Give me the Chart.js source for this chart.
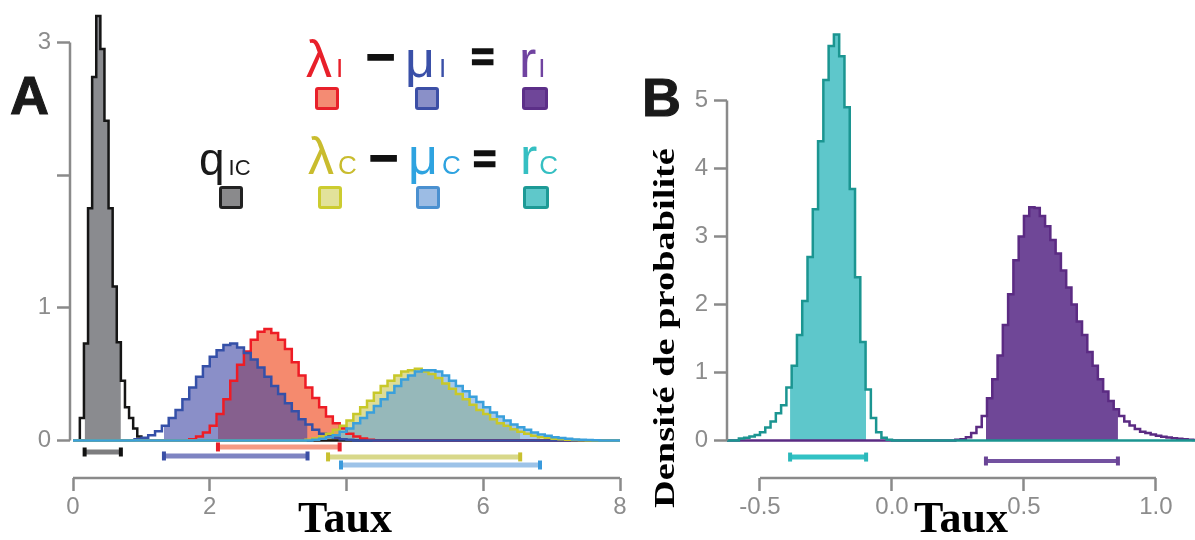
<!DOCTYPE html>
<html lang="fr">
<head>
<meta charset="utf-8">
<title>Taux</title>
<script src="https://cdn.jsdelivr.net/npm/chart.js@4.4.1/dist/chart.umd.min.js"></script>
<style>
  html, body { margin: 0; padding: 0; background: #fff; }
  body { width: 1195px; height: 540px; position: relative; overflow: hidden; font-family: "Liberation Sans", Arial, sans-serif; }
  .panel { position: absolute; top: 0; height: 540px; }
  #panelA { left: 0; width: 640px; }
  #panelB { left: 640px; width: 555px; }
  .txt { position: absolute; white-space: nowrap; line-height: 1; }
  .big { font-size: 52px; }
  .sub { font-size: 26px; margin-left: 4px; }
  .op { font-weight: bold; color: #111; -webkit-text-stroke: 1.5px #111; }
  .sq { position: absolute; box-sizing: border-box; border: 3px solid; border-radius: 3px; width: 24px; height: 23px; }
  .letter { font-weight: bold; font-size: 54px; color: #1a1a1a; -webkit-text-stroke: 1px #1a1a1a; }
  #yTitleB { font-family: "Liberation Serif", "Times New Roman", serif; font-weight: bold; font-size: 30px;
             left: 664px; top: 328px; transform: translate(-50%, -50%) rotate(-90deg) scaleX(1.28); }
</style>
</head>
<body>
<div class="panel" id="panelA"><canvas id="chartA"></canvas></div>
<div class="panel" id="panelB"><canvas id="chartB"></canvas></div>

<!-- panel letters -->
<div class="txt letter" style="left:10px;top:68px">A</div>
<div class="txt letter" style="left:642px;top:70px">B</div>

<!-- legend, row 1 -->
<div class="txt big" style="left:306px;top:33px;color:#E8202A">λ<span class="sub">I</span></div>
<div class="txt op" style="left:366px;top:32px;font-size:50px">−</div>
<div class="txt big" style="left:405px;top:33px;color:#3A50A8">μ<span class="sub">I</span></div>
<div class="txt op" style="left:471px;top:37px;font-size:40px">=</div>
<div class="txt big" style="left:519px;top:33px;color:#7043A0">r<span class="sub" style="margin-left:2px">I</span></div>
<div class="sq" style="left:315px;top:87px;border-color:#E8202A;background:#F48B73"></div>
<div class="sq" style="left:415px;top:87px;border-color:#3C4FA6;background:#8A90C8"></div>
<div class="sq" style="left:522px;top:87px;width:26px;border-color:#5C2F88;background:#6F4699"></div>

<!-- legend, row 2 -->
<div class="txt" style="left:199px;top:136px;font-size:46px;color:#1a1a1a">q<span class="sub" style="font-size:22px">IC</span></div>
<div class="txt big" style="left:308px;top:130px;color:#C9BC2E">λ<span class="sub">C</span></div>
<div class="txt op" style="left:369px;top:133px;font-size:50px">−</div>
<div class="txt big" style="left:408px;top:130px;color:#2EA3E0">μ<span class="sub">C</span></div>
<div class="txt op" style="left:473px;top:139px;font-size:40px">=</div>
<div class="txt big" style="left:520px;top:130px;color:#35BFC2">r<span class="sub" style="margin-left:2px">C</span></div>
<div class="sq" style="left:219px;top:186px;border-color:#222;background:#8A8A8C"></div>
<div class="sq" style="left:318px;top:186px;border-color:#CCCC30;background:#E2E29A"></div>
<div class="sq" style="left:416px;top:186px;border-color:#4A90D0;background:#9CBCE4"></div>
<div class="sq" style="left:523px;top:186px;width:26px;border-color:#1D9A96;background:#5FC8CA"></div>

<div class="txt" id="yTitleB">Densité de probabilité</div>

<script>
// ---- axes ----
const xTicksA = [0, 2, 4, 6, 8];
const xLabelsA = ['0', '2', '', '6', '8'];
const yTicksA = [0, 1, 2, 3];
const yLabelsA = ['0', '1', '', '3'];
const xTicksB = [-0.5, 0, 0.5, 1.0];
const xLabelsB = ['-0.5', '0.0', '0.5', '1.0'];
const yTicksB = [0, 1, 2, 3, 4, 5];
const yLabelsB = ['0', '1', '2', '3', '4', '5'];

// ---- panel A histograms (bin start, bin width, densities) and 95% intervals ----
const qicStart = 0.10, qicWidth = 0.06;
const qicDensity = [0.17, 0.73, 1.75, 2.74, 3.2, 2.95, 2.41, 1.75, 1.16, 0.74, 0.45, 0.25, 0.17, 0.09, 0.03];
const qicCI = [0.17, 0.70];

const lambdaIStart = 1.7, lambdaIWidth = 0.1;
const lambdaIDensity = [0.01, 0.03, 0.06, 0.11, 0.2, 0.31, 0.45, 0.57, 0.67, 0.76, 0.82, 0.84, 0.81, 0.76,
  0.69, 0.59, 0.49, 0.40, 0.32, 0.25, 0.18, 0.13, 0.09, 0.05, 0.03, 0.015, 0.005];
const lambdaICI = [2.12, 3.90];

const muIStart = 0.9, muIWidth = 0.1;
const muIDensity = [0.01, 0.02, 0.04, 0.07, 0.11, 0.17, 0.23, 0.31, 0.40, 0.48, 0.56, 0.63, 0.68, 0.72, 0.73,
  0.70, 0.66, 0.61, 0.55, 0.48, 0.41, 0.35, 0.28, 0.22, 0.16, 0.12, 0.08, 0.05, 0.03, 0.02, 0.01, 0.005];
const muICI = [1.33, 3.43];

const lambdaCStart = 3.4, lambdaCWidth = 0.1;
const lambdaCDensity = [0.005, 0.015, 0.03, 0.05, 0.08, 0.11, 0.15, 0.20, 0.25, 0.30, 0.36, 0.41, 0.45, 0.49,
  0.52, 0.53, 0.54, 0.52, 0.50, 0.47, 0.43, 0.39, 0.35, 0.31, 0.27, 0.23, 0.20, 0.16, 0.13, 0.11, 0.085,
  0.065, 0.05, 0.035, 0.025, 0.02, 0.013, 0.009, 0.006, 0.004, 0.002];
const lambdaCCI = [3.73, 6.54];

const muCStart = 3.5, muCWidth = 0.1;
const muCDensity = [0.005, 0.012, 0.025, 0.04, 0.065, 0.09, 0.13, 0.17, 0.21, 0.26, 0.31, 0.36, 0.41, 0.46,
  0.49, 0.52, 0.53, 0.53, 0.52, 0.49, 0.45, 0.41, 0.37, 0.33, 0.29, 0.25, 0.21, 0.18, 0.15, 0.12, 0.10,
  0.08, 0.06, 0.045, 0.035, 0.025, 0.018, 0.012, 0.008, 0.005, 0.003, 0.002];
const muCCI = [3.92, 6.83];

// ---- panel B histograms ----
const rCStart = -0.58, rCWidth = 0.02;
const rCDensity = [0.03, 0.04, 0.06, 0.08, 0.12, 0.19, 0.28, 0.40, 0.52, 0.78, 1.10, 1.55, 2.05, 2.7, 3.4,
  4.4, 5.3, 5.8, 5.97, 5.65, 4.9, 3.7, 2.4, 1.45, 0.75, 0.33, 0.12, 0.04, 0.01];
const rCCI = [-0.386, -0.098];

const rIStart = 0.24, rIWidth = 0.02;
const rIDensity = [0.01, 0.02, 0.05, 0.11, 0.2, 0.36, 0.62, 0.9, 1.25, 1.7, 2.15, 2.65, 3.0, 3.3, 3.43, 3.42,
  3.3, 3.15, 2.95, 2.75, 2.5, 2.25, 2.0, 1.75, 1.55, 1.3, 1.1, 0.9, 0.72, 0.58, 0.46, 0.36, 0.28, 0.22,
  0.17, 0.13, 0.11, 0.09, 0.07, 0.055, 0.045, 0.035, 0.028, 0.02, 0.012, 0.006];
const rICI = [0.356, 0.856];

// ---- helpers ----
// full outline of a histogram, running along zero out to both ends of the axis
function histOutline(start, width, dens, lo, hi) {
    const pts = [{ x: lo, y: 0 }];
    dens.forEach((d, i) => pts.push({ x: start + i * width, y: d }));
    pts.push({ x: start + dens.length * width, y: 0 });
    pts.push({ x: hi, y: 0 });
    return pts;
}

// only the part of the histogram inside the credible interval (the shaded bit)
function histShade(start, width, dens, ci) {
    const pts = [];
    dens.forEach((d, i) => {
        const a = start + i * width;
        if (a + width <= ci[0] || a >= ci[1]) return;
        pts.push({ x: Math.max(a, ci[0]), y: d });
    });
    pts.push({ x: ci[1], y: 0 });
    return pts;
}

function outlineSet(data, color) {
    return { data: data, borderColor: color, borderWidth: 2.5, fill: false, stepped: true, pointRadius: 0, borderJoinStyle: 'miter' };
}
function shadeSet(data, color) {
    return { data: data, borderWidth: 0, borderColor: 'rgba(0,0,0,0)', backgroundColor: color, fill: 'origin', stepped: true, pointRadius: 0 };
}
function ciSet(ci, level, color, capColor, width) {
    return {
        data: [{ x: ci[0], y: level }, { x: ci[1], y: level }],
        borderColor: color, borderWidth: width, borderCapStyle: 'butt', fill: false,
        pointStyle: 'line', pointRotation: 90, pointRadius: 4.5, pointBorderWidth: 4,
        pointBorderColor: capColor, pointBackgroundColor: capColor
    };
}

// draws the two axis lines only over the labelled range
const axisLines = {
    id: 'axisLines',
    afterDatasetsDraw(chart, args, opts) {
        const { ctx, chartArea, scales } = chart;
        ctx.save();
        ctx.strokeStyle = '#8a8a8a';
        ctx.lineWidth = 2.5;
        ctx.beginPath();
        ctx.moveTo(chartArea.left, scales.y.getPixelForValue(opts.yRange[0]));
        ctx.lineTo(chartArea.left, scales.y.getPixelForValue(opts.yRange[1]));
        ctx.moveTo(scales.x.getPixelForValue(opts.xRange[0]), chartArea.bottom);
        ctx.lineTo(scales.x.getPixelForValue(opts.xRange[1]), chartArea.bottom);
        ctx.stroke();
        ctx.restore();
    }
};

function withOrder(sets) {
    // first in the list is drawn first (at the back)
    return sets.map((s, i) => Object.assign(s, { order: sets.length - i }));
}

function makeOptions(xr, yr, xt, xl, yt, yl, yWidth, pad) {
    const tickFont = { family: '"Liberation Sans", Arial, sans-serif', size: 24 };
    const grid = { drawOnChartArea: false, drawTicks: true, tickLength: 13, tickWidth: 2.5, tickColor: '#8a8a8a' };
    return {
        responsive: true,
        maintainAspectRatio: false,
        animation: false,
        events: [],
        layout: { padding: pad, autoPadding: false },
        plugins: {
            legend: { display: false },
            tooltip: { enabled: false },
            axisLines: { xRange: [xt[0], xt[xt.length - 1]], yRange: [yt[0], yt[yt.length - 1]] }
        },
        scales: {
            x: {
                type: 'linear', min: xr[0], max: xr[1],
                grid: grid, border: { display: false },
                afterBuildTicks: s => { s.ticks = xt.map(v => ({ value: v })); },
                afterFit: s => { s.height = 62; },
                ticks: { font: tickFont, color: '#8c8c8c', padding: 2, maxRotation: 0, autoSkip: false,
                         callback: (v, i) => xl[i] },
                title: { display: true, text: 'Taux', color: '#000', padding: 0,
                         font: { family: '"Liberation Serif", "Times New Roman", serif', weight: 'bold', size: 44, lineHeight: 0.86 } }
            },
            y: {
                min: yr[0], max: yr[1],
                grid: grid, border: { display: false },
                afterBuildTicks: s => { s.ticks = yt.map(v => ({ value: v })); },
                afterFit: s => { s.width = yWidth; s.paddingTop = 0; s.paddingBottom = 0; },
                ticks: { font: tickFont, color: '#8c8c8c', padding: 6, autoSkip: false,
                         callback: (v, i) => yl[i] }
            }
        }
    };
}

// ---- panel A ----
const xRangeA = [-0.0439, 8];
const setsA = withOrder([
    shadeSet(histShade(qicStart, qicWidth, qicDensity, qicCI), '#8A8B8F'),
    shadeSet(histShade(lambdaIStart, lambdaIWidth, lambdaIDensity, lambdaICI), 'rgba(240,75,32,0.65)'),
    shadeSet(histShade(muIStart, muIWidth, muIDensity, muICI), 'rgba(60,68,163,0.6)'),
    shadeSet(histShade(lambdaCStart, lambdaCWidth, lambdaCDensity, lambdaCCI), 'rgba(195,192,70,0.55)'),
    shadeSet(histShade(muCStart, muCWidth, muCDensity, muCCI), 'rgba(80,150,220,0.5)'),
    outlineSet(histOutline(qicStart, qicWidth, qicDensity, 0, 8), '#151515'),
    outlineSet(histOutline(lambdaIStart, lambdaIWidth, lambdaIDensity, 0, 8), '#EE1C25'),
    outlineSet(histOutline(muIStart, muIWidth, muIDensity, 0, 8), '#3550A8'),
    outlineSet(histOutline(lambdaCStart, lambdaCWidth, lambdaCDensity, 0, 8), '#C8C82A'),
    outlineSet(histOutline(muCStart, muCWidth, muCDensity, 0, 8), '#3AA0DC'),
    ciSet(qicCI, -0.087, '#7d7d7f', '#111', 5),
    ciSet(lambdaICI, -0.049, '#F49A84', '#E8202A', 5),
    ciSet(muICI, -0.117, '#7E84C2', '#3A4FA6', 5),
    ciSet(lambdaCCI, -0.124, '#D8D88A', '#C8C030', 5),
    ciSet(muCCI, -0.185, '#9DC3E8', '#3A9ADC', 5)
]);

new Chart(document.getElementById('chartA'), {
    type: 'line',
    data: { datasets: setsA },
    options: makeOptions(xRangeA, [-0.283, 3.32], xTicksA, xLabelsA, yTicksA, yLabelsA, 70,
                         { left: 0, right: 20, top: 0, bottom: 0 }),
    plugins: [axisLines]
});

// ---- panel B ----
const xRangeB = [-0.625, 1.148];
const setsB = withOrder([
    shadeSet(histShade(rCStart, rCWidth, rCDensity, rCCI), '#5EC7CB'),
    shadeSet(histShade(rIStart, rIWidth, rIDensity, rICI), '#6F4797'),
    outlineSet(histOutline(rIStart, rIWidth, rIDensity, xRangeB[0], xRangeB[1]), '#5B2B83'),
    outlineSet(histOutline(rCStart, rCWidth, rCDensity, xRangeB[0], xRangeB[1]), '#1B9591'),
    ciSet(rCCI, -0.243, '#32C2C4', '#2AB8BA', 5),
    ciSet(rICI, -0.301, '#7351A0', '#6A4496', 4)
]);

new Chart(document.getElementById('chartB'), {
    type: 'line',
    data: { datasets: setsB },
    options: makeOptions(xRangeB, [-0.551, 6.478], xTicksB, xLabelsB, yTicksB, yLabelsB, 87,
                         { left: 0, right: 0, top: 0, bottom: 0 }),
    plugins: [axisLines]
});
</script>
</body>
</html>
